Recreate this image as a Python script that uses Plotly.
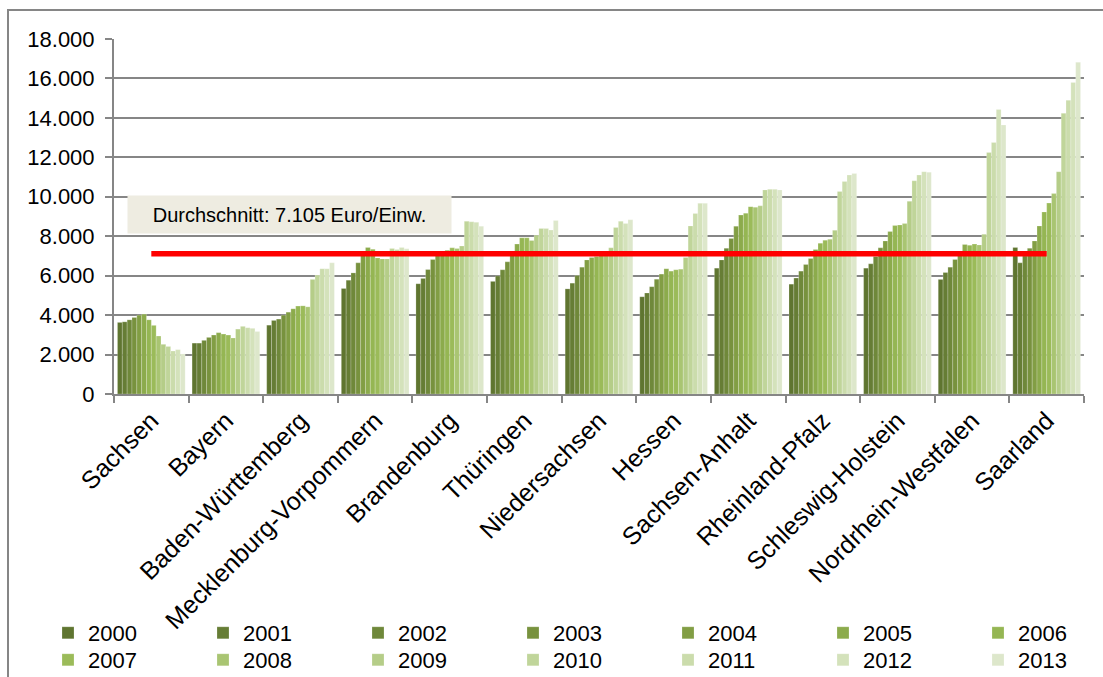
import plotly.graph_objects as go

laender = ["Sachsen", "Bayern", "Baden-Württemberg", "Mecklenburg-Vorpommern",
           "Brandenburg", "Thüringen", "Niedersachsen", "Hessen", "Sachsen-Anhalt",
           "Rheinland-Pfalz", "Schleswig-Holstein", "Nordrhein-Westfalen", "Saarland"]
jahre = [str(y) for y in range(2000, 2014)]

# values per Land, 2000..2013 (Euro/Einw.)
sachsen = [3630, 3660, 3760, 3880, 4000, 4050, 3760, 3480, 2940, 2520, 2410, 2180, 2250, 2030]
bayern = [2580, 2580, 2720, 2870, 2990, 3110, 3040, 2990, 2840, 3290, 3430, 3360, 3330, 3170]
baden_wuerttemberg = [3490, 3730, 3800, 4000, 4150, 4320, 4460, 4470, 4420, 5810, 6030, 6350, 6350, 6650]
mecklenburg_vorpommern = [5350, 5770, 6140, 6650, 7120, 7430, 7340, 6900, 6850, 6850, 7380, 7330, 7430, 7360]
brandenburg = [5590, 5860, 6310, 6820, 7210, 7210, 7290, 7410, 7380, 7500, 8760, 8730, 8710, 8510]
thueringen = [5710, 5990, 6300, 6700, 7120, 7600, 7920, 7920, 7780, 8050, 8390, 8390, 8310, 8800]
niedersachsen = [5330, 5620, 6010, 6430, 6800, 6920, 6970, 7010, 7010, 7410, 8440, 8760, 8640, 8830]
hessen = [4930, 5120, 5440, 5820, 6080, 6350, 6230, 6300, 6330, 6920, 8520, 9150, 9670, 9670]
sachsen_anhalt = [6380, 6800, 7390, 7880, 8510, 9070, 9170, 9500, 9470, 9540, 10350, 10380, 10380, 10350]
rheinland_pfalz = [5570, 5880, 6230, 6570, 6870, 7330, 7650, 7800, 7850, 8300, 10270, 10780, 11100, 11180]
schleswig_holstein = [6380, 6600, 6970, 7410, 7760, 8240, 8540, 8570, 8640, 9770, 10810, 11100, 11270, 11250]
nordrhein_westfalen = [5810, 6160, 6430, 6820, 7160, 7580, 7540, 7600, 7560, 8100, 12240, 12750, 14430, 13640]
saarland = [7430, 6650, 7000, 7390, 7760, 8520, 9230, 9680, 10160, 11270, 14230, 14900, 15800, 16820]

durchschnitt = 7105
y_ticks = [0, 2000, 4000, 6000, 8000, 10000, 12000, 14000, 16000, 18000]
y_ticktext = ["0", "2.000", "4.000", "6.000", "8.000", "10.000", "12.000", "14.000", "16.000", "18.000"]

farben = ["#5f7530", "#667d35", "#6f883a", "#78923e", "#829e44", "#8cab4c", "#95b653",
          "#9bbb59", "#a9c572", "#b5cd88", "#c0d59a", "#cbdcac", "#d4e2bb", "#dde7cb"]

werte = [sachsen, bayern, baden_wuerttemberg, mecklenburg_vorpommern, brandenburg,
         thueringen, niedersachsen, hessen, sachsen_anhalt, rheinland_pfalz,
         schleswig_holstein, nordrhein_westfalen, saarland]

font_family = "Liberation Sans, Arial, sans-serif"
grid = "#868686"

fig = go.Figure()
for j, jahr in enumerate(jahre):
    fig.add_trace(go.Bar(
        name=jahr, x=laender, y=[w[j] for w in werte],
        marker=dict(color=farben[j], line=dict(width=0.6, color="rgba(255,255,255,0.35)")),
        legend="legend" if j < 7 else "legend2",
    ))

fig.add_trace(go.Scatter(
    x=[laender[0], laender[-1]], y=[durchschnitt, durchschnitt], mode="lines",
    line=dict(color="#ff0000", width=5.5), showlegend=False, hoverinfo="skip",
))

L, R, T, B = 114, 19, 39, 283
W, H = 1103, 677
pw = W - L - R
ph = H - T - B

def px_x(x):
    return (x - L) / pw

def px_y(y):
    return (H - B - y) / ph

fig.add_annotation(
    xref="paper", yref="paper", x=px_x(289.5), y=px_y(214),
    text="Durchschnitt: 7.105 Euro/Einw.", showarrow=False,
    font=dict(family=font_family, size=20, color="#000000"),
    bgcolor="#eeece1", width=323, height=37, borderpad=0,
    xanchor="center", yanchor="middle",
)

fig.add_shape(type="rect", xref="paper", yref="paper",
              x0=px_x(8), x1=px_x(1110), y0=px_y(690), y1=px_y(10),
              line=dict(color=grid, width=2), fillcolor="rgba(0,0,0,0)", layer="below")

legend_common = dict(orientation="h", xanchor="left", yanchor="middle",
                     font=dict(size=22, family=font_family), entrywidth=110,
                     entrywidthmode="pixels", traceorder="normal", itemclick=False,
                     tracegroupgap=0, bgcolor="rgba(0,0,0,0)")

fig.update_layout(
    width=W, height=H,
    margin=dict(l=L, r=R, t=T, b=B, autoexpand=False),
    paper_bgcolor="white", plot_bgcolor="white",
    barmode="group", bargap=0.093, bargroupgap=0,
    font=dict(family=font_family, color="#000000"),
    showlegend=True,
    legend=dict(x=px_x(48), y=px_y(633), **legend_common),
    legend2=dict(x=px_x(48), y=px_y(660), **legend_common),
    xaxis=dict(type="category", tickangle=-45, tickfont=dict(size=25, family=font_family),
               showline=True, linecolor=grid, linewidth=2, ticks="outside", tickson="boundaries",
               ticklen=7, tickcolor=grid, tickwidth=2, showgrid=False),
    yaxis=dict(range=[0, 18000], tickvals=y_ticks, ticktext=y_ticktext,
               tickfont=dict(size=22, family=font_family), showline=True, linecolor=grid,
               linewidth=2, ticks="outside", ticklen=7, tickcolor=grid, tickwidth=2,
               ticklabelstandoff=6,
               showgrid=True, gridcolor=grid, gridwidth=1.5, zeroline=False),
)

fig.write_html("out.html", config={"displayModeBar": False},
               post_script="document.body.style.margin='0';")
